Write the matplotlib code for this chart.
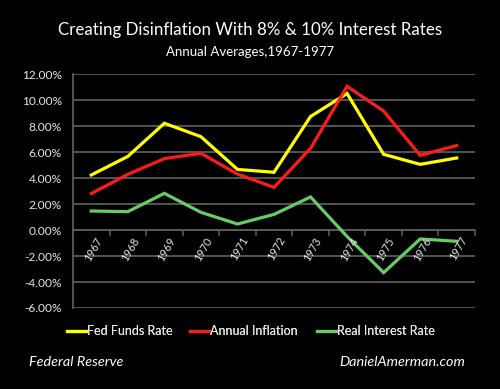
import matplotlib
matplotlib.use("Agg")
import matplotlib.pyplot as plt
import numpy as np

years = ["1967", "1968", "1969", "1970", "1971", "1972", "1973", "1974", "1975", "1976", "1977"]
fed_funds = [4.23, 5.66, 8.21, 7.18, 4.66, 4.44, 8.73, 10.50, 5.82, 5.05, 5.54]
inflation = [2.80, 4.28, 5.49, 5.90, 4.30, 3.28, 6.28, 11.05, 9.15, 5.74, 6.50]
real_rate = [1.46, 1.41, 2.82, 1.36, 0.46, 1.20, 2.54, -0.50, -3.28, -0.69, -0.87]
yticks = [-6, -4, -2, 0, 2, 4, 6, 8, 10, 12]

plt.rcParams['font.family'] = ['Lato', 'DejaVu Sans']

W, H = 500, 389
fig = plt.figure(figsize=(W / 100, H / 100), dpi=100, facecolor='black')
ax = fig.add_axes([73 / W, 1 - 308 / H, (475 - 73) / W, (308 - 74) / H])
ax.set_facecolor('black')

x = np.arange(len(years))
l1, = ax.plot(x, fed_funds, color='#ffff00', lw=2.3, label='Fed Funds Rate', solid_joinstyle='miter')
l2, = ax.plot(x, inflation, color='#ff1a1a', lw=2.3, label='Annual Inflation', solid_joinstyle='miter')
l3, = ax.plot(x, real_rate, color='#66cc66', lw=2.3, label='Real Interest Rate', solid_joinstyle='miter')

ax.set_xlim(-0.5, len(years) - 0.5)
ax.set_ylim(-6, 12)
ax.set_yticks(yticks)
ax.set_yticklabels([f"{v:.2f}%" for v in yticks], color='#e6e6e6', fontsize=8.6)
ax.tick_params(axis='y', length=0, pad=8)
ax.yaxis.grid(True, color='#5a5a5a', lw=1.3)
ax.set_axisbelow(True)
for s in ['top', 'right', 'bottom']:
    ax.spines[s].set_visible(False)
ax.spines['left'].set_color('#5a5a5a')
ax.spines['left'].set_linewidth(1.3)

# x axis at zero
ax.axhline(0, color='#5a5a5a', lw=1.3, zorder=1)
ax.set_xticks([])
for b in np.arange(-0.5, len(years), 1.0):
    ax.plot([b, b], [0, -0.35], color='#5a5a5a', lw=1.2, zorder=1, clip_on=False)
for i, yr in enumerate(years):
    ax.text(i + 0.1, -0.4, yr, rotation=60, ha='right', va='top', color='#e6e6e6',
            fontsize=7.8, rotation_mode='anchor')

fig.text(0.5, 1 - 30 / H, "Creating Disinflation With 8% & 10% Interest Rates", color='white',
         fontsize=12.2, ha='center', va='center')
fig.text(0.5, 1 - 52 / H, "Annual Averages,1967-1977", color='white', fontsize=9.5,
         ha='center', va='center')

# legend entries placed individually to match spacing
for handle, x0 in [(l1, 67), (l2, 190), (l3, 317)]:
    lg = fig.legend(handles=[handle], loc='center left', bbox_to_anchor=(x0 / W, 1 - 331 / H),
                    frameon=False, fontsize=9.0, labelcolor='#e6e6e6', handlelength=1.5,
                    handletextpad=0.1, borderpad=0, borderaxespad=0)
    fig.add_artist(lg)

fig.text(29 / W, 1 - 362 / H, "Federal Reserve", color='white', fontsize=10.4, style='italic',
         ha='left', va='center')
fig.text(465 / W, 1 - 362 / H, "DanielAmerman.com", color='white', fontsize=10.4, style='italic',
         ha='right', va='center')

fig.savefig('out.png', dpi=100, facecolor='black')
